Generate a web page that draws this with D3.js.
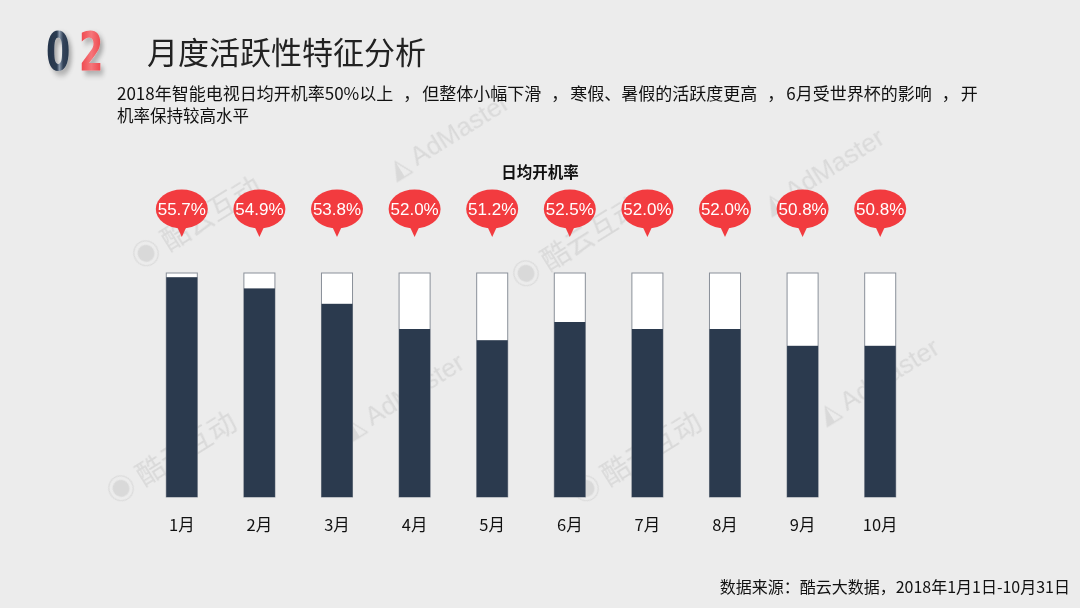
<!DOCTYPE html>
<html><head><meta charset="utf-8">
<script src="https://cdn.jsdelivr.net/npm/d3@7"></script>
<style>
html,body{margin:0;padding:0;background:#ececec;}
svg{display:block;font-family:"Microsoft YaHei","Noto Sans CJK SC",sans-serif;}
</style></head><body>
<svg id="c" width="1080" height="608"></svg>
<script>
const months = ["1月","2月","3月","4月","5月","6月","7月","8月","9月","10月"];
const rates = [55.7,54.9,53.8,52.0,51.2,52.5,52.0,52.0,50.8,50.8];
const rateLabels = ["55.7%","54.9%","53.8%","52.0%","51.2%","52.5%","52.0%","52.0%","50.8%","50.8%"];
const chartTitle = "日均开机率";
const pageTitle = "月度活跃性特征分析";
const subtitleLines = ["2018年智能电视日均开机率50%以上，但整体小幅下滑，寒假、暑假的活跃度更高，6月受世界杯的影响，开","机率保持较高水平"];
const sourceText = "数据来源：酷云大数据，2018年1月1日-10月31日";
const yDomain = [40,56];

const svg = d3.select("#c");
svg.append("rect").attr("width",1080).attr("height",608).attr("fill","#ececec");

const defs = svg.append("defs");
const g1 = defs.append("linearGradient").attr("id","g0").attr("x1",0).attr("x2",1);
g1.append("stop").attr("offset","0").attr("stop-color","#24344a");
g1.append("stop").attr("offset","0.45").attr("stop-color","#2c3c52");
g1.append("stop").attr("offset","0.55").attr("stop-color","#8a99ac");
g1.append("stop").attr("offset","0.7").attr("stop-color","#34445a");
g1.append("stop").attr("offset","1").attr("stop-color","#24344a");
const g2 = defs.append("linearGradient").attr("id","g2").attr("x1",0).attr("x2",1);
g2.append("stop").attr("offset","0").attr("stop-color","#ee3f45");
g2.append("stop").attr("offset","0.5").attr("stop-color","#f5767a");
g2.append("stop").attr("offset","1").attr("stop-color","#ec3d43");
const blur = defs.append("filter").attr("id","sh").attr("x","-50%").attr("y","-50%").attr("width","200%").attr("height","200%");
blur.append("feGaussianBlur").attr("in","SourceAlpha").attr("stdDeviation",3);
blur.append("feOffset").attr("dx",4).attr("dy",4).attr("result","b");
blur.append("feComponentTransfer").append("feFuncA").attr("type","linear").attr("slope",0.3);
const fm = blur.append("feMerge"); fm.append("feMergeNode"); fm.append("feMergeNode").attr("in","SourceGraphic");

// watermarks
const wm = svg.append("g").attr("fill","#d2d2d2").attr("opacity",0.7).style("font-family","Arial, sans-serif");
[[395,180],[770,215],[350,440],[825,425]].forEach(([x,y])=>{
  wm.append("text").attr("transform",`translate(${x},${y}) rotate(-32)`).attr("font-size",26).text("◭ AdMaster");
});
[[140,270],[520,290],[115,505],[580,505]].forEach(([x,y])=>{
  wm.append("text").attr("transform",`translate(${x},${y}) rotate(-32)`).attr("font-size",28).style("font-family","Noto Sans CJK SC").text("◉ 酷云互动");
});

// header
const numFont = "'Liberation Sans Narrow','DejaVu Sans Condensed',sans-serif";
svg.append("text").attr("font-size",54).attr("font-weight","bold").style("font-family",numFont)
  .attr("fill","url(#g0)").attr("filter","url(#sh)")
  .attr("transform","translate(46,70) scale(0.72,1)").text("0");
svg.append("text").attr("font-size",54).attr("font-weight","bold").style("font-family",numFont)
  .attr("fill","url(#g2)").attr("filter","url(#sh)")
  .attr("transform","translate(79,70) scale(0.72,1)").text("2");
svg.append("text").attr("x",147).attr("y",64).attr("font-size",31).attr("fill","#222").text(pageTitle);

// subtitle: wide punctuation spacing like the original
const st1 = svg.append("text").attr("x",117).attr("y",100).attr("font-size",17).attr("fill","#111");
const parts = subtitleLines[0].split(/(，)/);
let afterComma = false;
parts.forEach(p=>{
  if(p==="，"){ st1.append("tspan").attr("dx",10).text(p); afterComma = true; }
  else { st1.append("tspan").attr("dx",afterComma?2:0).text(p); afterComma = false; }
});
svg.append("text").attr("x",117).attr("y",122).attr("font-size",16.5).attr("fill","#111").text(subtitleLines[1]);

svg.append("text").attr("x",1070).attr("y",593).attr("text-anchor","end").attr("font-size",16).attr("fill","#111")
  .text(sourceText);

// chart
const x = d3.scaleBand().domain(months).range([143,919]).paddingInner(0.6).paddingOuter(0.3);
const y = d3.scaleLinear().domain(yDomain).range([497,273]);
svg.append("text").attr("x",540).attr("y",178).attr("text-anchor","middle").attr("font-size",15.5).attr("font-weight","bold").attr("fill","#111").text(chartTitle);

const bars = svg.append("g");
bars.selectAll("rect.bg").data(months).join("rect").attr("class","bg")
  .attr("x",d=>x(d)).attr("width",x.bandwidth()).attr("y",y(yDomain[1])).attr("height",y(yDomain[0])-y(yDomain[1]))
  .attr("fill","#fff").attr("stroke","#8a9099").attr("stroke-width",1);
bars.selectAll("rect.v").data(rates).join("rect").attr("class","v")
  .attr("x",(d,i)=>x(months[i])).attr("width",x.bandwidth()).attr("y",d=>y(d)).attr("height",d=>y(yDomain[0])-y(d))
  .attr("fill","#2b3a4e");

const axis = d3.axisBottom(x).tickSize(0).tickPadding(0);
const ag = svg.append("g").attr("transform","translate(0,516)").call(axis);
ag.select(".domain").remove();
ag.selectAll("text").attr("font-size",16.5).attr("fill","#111").attr("dy","0.9em").style("font-family","'Noto Sans CJK SC',sans-serif");

// balloons
const bl = svg.append("g");
rates.forEach((v,i)=>{
  const cx = x(months[i]) + x.bandwidth()/2, cy = 209;
  const gg = bl.append("g").attr("transform",`translate(${cx},${cy})`);
  gg.append("ellipse").attr("rx",26).attr("ry",19.5).attr("fill","#f23b3f");
  gg.append("path").attr("d","M-6,15 L0,28 L6,15 Z").attr("fill","#f23b3f");
  gg.append("text").attr("y",6).attr("text-anchor","middle").attr("font-size",17)
    .style("font-family","'Liberation Sans',Arial,sans-serif").attr("fill","#fff").text(rateLabels[i]);
});
</script></body></html>
